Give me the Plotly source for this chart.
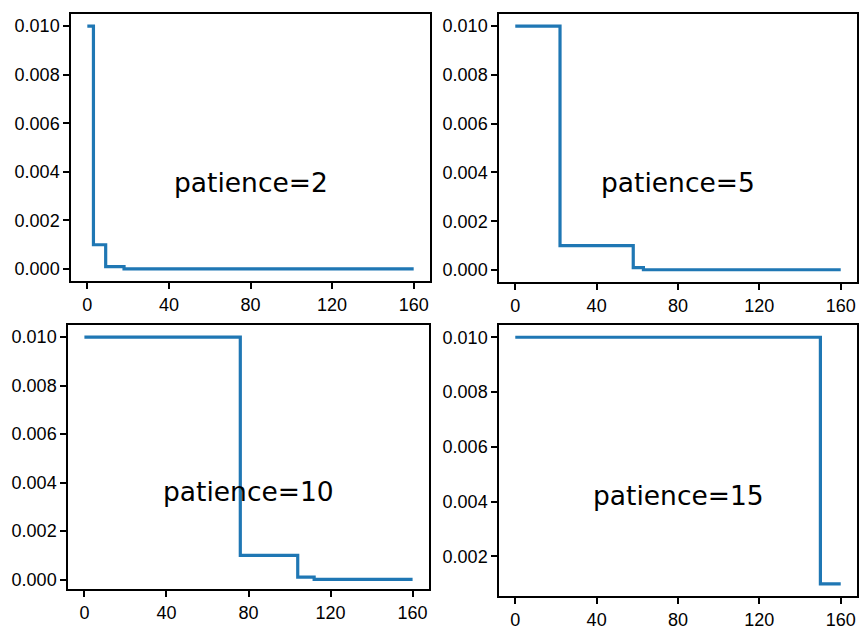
import plotly.graph_objects as go

# ---- data: learning-rate schedule breakpoints (epoch, lr) ----
epochs_p2 = [0, 3, 9, 18, 160]
lr_p2 = [0.01, 0.001, 0.0001, 0.00001, 0.00001]

epochs_p5 = [0, 22, 58, 63, 160]
lr_p5 = [0.01, 0.001, 0.0001, 0.00001, 0.00001]

epochs_p10 = [0, 76, 104, 112, 160]
lr_p10 = [0.01, 0.001, 0.0001, 0.00001, 0.00001]

epochs_p15 = [0, 150, 160]
lr_p15 = [0.01, 0.001, 0.001]

labels = ["patience=2", "patience=5", "patience=10", "patience=15"]
x_ticks = [0, 40, 80, 120, 160]
y_ticks = [0.000, 0.002, 0.004, 0.006, 0.008, 0.010]

series = [(epochs_p2, lr_p2), (epochs_p5, lr_p5), (epochs_p10, lr_p10), (epochs_p15, lr_p15)]

W, H = 861, 630
# panel boxes in screen pixels: (left, right, top, bottom)
boxes = [(71, 430, 14, 283), (499, 857, 14, 284), (68, 429, 327, 593), (499, 857, 327, 600)]
y_ranges = [[-0.0005, 0.0105], [-0.0005, 0.0105], [-0.0004, 0.0105], [0.00055, 0.01045]]

fig = go.Figure()
font_family = "Liberation Sans, Arial, sans-serif"
layout = dict(
    width=W, height=H, margin=dict(l=0, r=0, t=0, b=0),
    paper_bgcolor="white", plot_bgcolor="white", showlegend=False,
    font=dict(family=font_family, size=18, color="black"),
    annotations=[],
)

for i, ((xs, ys), (l, r, t, b), yr, lab) in enumerate(zip(series, boxes, y_ranges, labels)):
    n = "" if i == 0 else str(i + 1)
    fig.add_trace(go.Scatter(x=xs, y=ys, mode="lines", line_shape="hv",
                             line=dict(color="#1f77b4", width=3.2),
                             xaxis="x" + n, yaxis="y" + n))
    axis_common = dict(showline=True, mirror=True, linecolor="black", linewidth=1.5,
                       ticks="outside", ticklen=6, tickwidth=1.5, tickcolor="black",
                       showgrid=False, zeroline=False)
    layout["xaxis" + n] = dict(domain=[l / W, r / W], range=[-8, 168], anchor="y" + n,
                               tickvals=x_ticks, ticktext=[str(v) for v in x_ticks], **axis_common)
    layout["yaxis" + n] = dict(domain=[1 - b / H, 1 - t / H], range=yr, anchor="x" + n,
                               tickvals=y_ticks, tickformat=".3f", **axis_common)
    layout["annotations"].append(dict(text=lab, xref="x%s domain" % n, yref="y%s domain" % n,
                                      x=0.5, y=0.37, showarrow=False,
                                      font=dict(size=26.5, family="DejaVu Sans, sans-serif", color="black")))

fig.update_layout(**layout)
fig.write_html("out.html", config={"displayModeBar": False},
               post_script="document.body.style.margin='0';document.body.style.overflow='hidden';")
